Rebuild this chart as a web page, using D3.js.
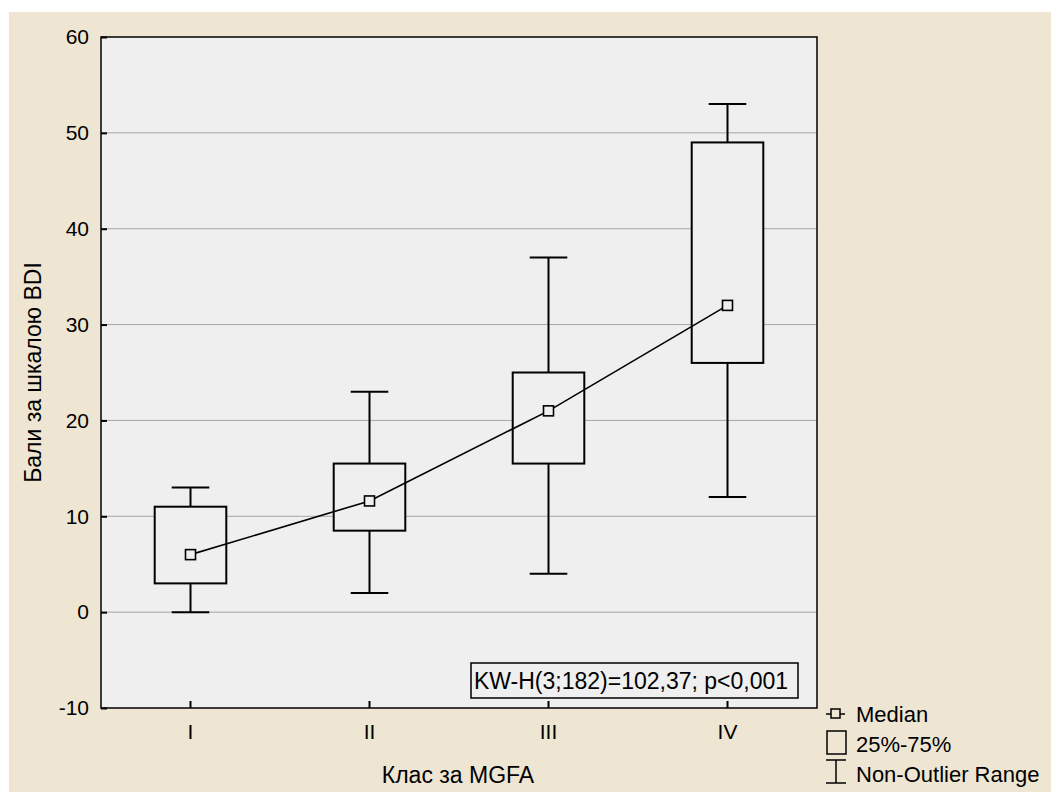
<!DOCTYPE html>
<html>
<head>
<meta charset="utf-8">
<script src="https://cdn.jsdelivr.net/npm/d3@7"></script>
<style>
  body { margin: 0; background: #fff; }
  svg text { font-family: "Liberation Sans", Arial, sans-serif; fill: #000; }
</style>
</head>
<body>
<div id="chart"></div>
<script>
// data
var classes = ["I", "II", "III", "IV"];
var medians = [6, 11.6, 21, 32];
var q25 = [3, 8.5, 15.5, 26];
var q75 = [11, 15.5, 25, 49];
var whiskLow = [0, 2, 4, 12];
var whiskHigh = [13, 23, 37, 53];
var yTicks = [-10, 0, 10, 20, 30, 40, 50, 60];
var statText = "KW-H(3;182)=102,37; p<0,001";

var width = 1051, height = 792;
var plot = { left: 101, top: 37, right: 817, bottom: 708 };

var svg = d3.select("#chart").append("svg")
	.attr("width", width)
	.attr("height", height);

// beige background with white strip top/left
svg.append("rect")
	.attr("x", 9).attr("y", 12)
	.attr("width", width - 9).attr("height", height - 12)
	.style("fill", "#efe5d3");

var x = d3.scaleBand().domain(classes).range([plot.left, plot.right]).padding(0);
var y = d3.scaleLinear().domain([-10, 60]).range([plot.bottom, plot.top]);

svg.append("rect")
	.attr("x", plot.left).attr("y", plot.top)
	.attr("width", plot.right - plot.left).attr("height", plot.bottom - plot.top)
	.style("fill", "#efefef");

// gridlines
svg.selectAll(".grid")
	.data(yTicks.filter(function(d) { return d > -10 && d < 60; }))
	.enter().append("line")
	.attr("class", "grid")
	.attr("x1", plot.left).attr("x2", plot.right)
	.attr("y1", function(d) { return y(d); })
	.attr("y2", function(d) { return y(d); })
	.style("stroke", "#a6a6a6")
	.style("stroke-width", 1);

// axes
var yAxis = d3.axisLeft(y).tickValues(yTicks).tickSize(-6).tickPadding(12)
	.tickFormat(function(d) { return String(d); });
var gy = svg.append("g").attr("transform", "translate(" + plot.left + ",0)").call(yAxis);
gy.select(".domain").remove();
gy.selectAll("line").style("stroke", "#000").style("stroke-width", 2);
gy.selectAll("text").style("font-size", "21px").attr("font-family", null);

var xAxis = d3.axisBottom(x).tickSize(-7).tickPadding(16);
var gx = svg.append("g").attr("transform", "translate(0," + plot.bottom + ")").call(xAxis);
gx.select(".domain").remove();
gx.selectAll("line").style("stroke", "#000").style("stroke-width", 2);
gx.selectAll("text").style("font-size", "21px").attr("font-family", null);

// plot frame
svg.append("rect")
	.attr("x", plot.left).attr("y", plot.top)
	.attr("width", plot.right - plot.left).attr("height", plot.bottom - plot.top)
	.style("fill", "none")
	.style("stroke", "#000")
	.style("stroke-width", 1.5);

var boxW = x.bandwidth() * 0.4;
var capW = x.bandwidth() * 0.21;

var groups = svg.selectAll(".box")
	.data(classes)
	.enter().append("g")
	.attr("class", "box");

function cx(d) { return x(d) + x.bandwidth() / 2; }

// whiskers
groups.append("line")
	.attr("x1", cx).attr("x2", cx)
	.attr("y1", function(d, i) { return y(whiskLow[i]); })
	.attr("y2", function(d, i) { return y(whiskHigh[i]); });
groups.append("line")
	.attr("x1", function(d) { return cx(d) - capW / 2; })
	.attr("x2", function(d) { return cx(d) + capW / 2; })
	.attr("y1", function(d, i) { return y(whiskHigh[i]); })
	.attr("y2", function(d, i) { return y(whiskHigh[i]); });
groups.append("line")
	.attr("x1", function(d) { return cx(d) - capW / 2; })
	.attr("x2", function(d) { return cx(d) + capW / 2; })
	.attr("y1", function(d, i) { return y(whiskLow[i]); })
	.attr("y2", function(d, i) { return y(whiskLow[i]); });
groups.selectAll("line").style("stroke", "#000").style("stroke-width", 2);

// boxes
groups.append("rect")
	.attr("x", function(d) { return cx(d) - boxW / 2; })
	.attr("y", function(d, i) { return y(q75[i]); })
	.attr("width", boxW)
	.attr("height", function(d, i) { return y(q25[i]) - y(q75[i]); })
	.style("fill", "#efefef")
	.style("stroke", "#000")
	.style("stroke-width", 2);

// median line
var line = d3.line()
	.x(function(d, i) { return cx(classes[i]); })
	.y(function(d) { return y(d); });
svg.append("path")
	.datum(medians)
	.attr("d", line)
	.style("fill", "none")
	.style("stroke", "#000")
	.style("stroke-width", 1.6);

svg.selectAll(".med")
	.data(medians)
	.enter().append("rect")
	.attr("class", "med")
	.attr("x", function(d, i) { return cx(classes[i]) - 5; })
	.attr("y", function(d) { return y(d) - 5; })
	.attr("width", 10).attr("height", 10)
	.style("fill", "#efefef")
	.style("stroke", "#000")
	.style("stroke-width", 1.6);

// stats annotation
svg.append("rect")
	.attr("x", 471).attr("y", 663)
	.attr("width", 327).attr("height", 35)
	.style("fill", "#efefef")
	.style("stroke", "#000")
	.style("stroke-width", 1.5);
svg.append("text")
	.text(statText)
	.attr("x", 631).attr("y", 689)
	.attr("text-anchor", "middle")
	.style("font-size", "23px");

// axis titles
svg.append("text")
	.text("Клас за MGFA")
	.attr("x", 458).attr("y", 783)
	.attr("text-anchor", "middle")
	.style("font-size", "23px");
svg.append("text")
	.text("Бали за шкалою BDI")
	.attr("transform", "translate(41," + ((plot.top + plot.bottom) / 2) + ") rotate(-90)")
	.attr("text-anchor", "middle")
	.style("font-size", "23px");

// legend
var lg = svg.append("g");
lg.append("line").attr("x1", 826).attr("x2", 845).attr("y1", 714).attr("y2", 714)
	.style("stroke", "#000").style("stroke-width", 1.5);
lg.append("rect").attr("x", 831).attr("y", 709).attr("width", 9).attr("height", 9)
	.style("fill", "#efe5d3").style("stroke", "#000").style("stroke-width", 1.5);
lg.append("text").text("Median").attr("x", 856).attr("y", 722).style("font-size", "22px");

lg.append("rect").attr("x", 827).attr("y", 731).attr("width", 19).attr("height", 23)
	.style("fill", "none").style("stroke", "#000").style("stroke-width", 1.5);
lg.append("text").text("25%-75%").attr("x", 856).attr("y", 752).style("font-size", "22px");

lg.append("line").attr("x1", 826).attr("x2", 846).attr("y1", 760).attr("y2", 760);
lg.append("line").attr("x1", 826).attr("x2", 846).attr("y1", 783).attr("y2", 783);
lg.append("line").attr("x1", 836).attr("x2", 836).attr("y1", 760).attr("y2", 783);
lg.selectAll("line").style("stroke", "#000").style("stroke-width", 1.5);
lg.append("text").text("Non-Outlier Range").attr("x", 856).attr("y", 782).style("font-size", "22px");
</script>
</body>
</html>
